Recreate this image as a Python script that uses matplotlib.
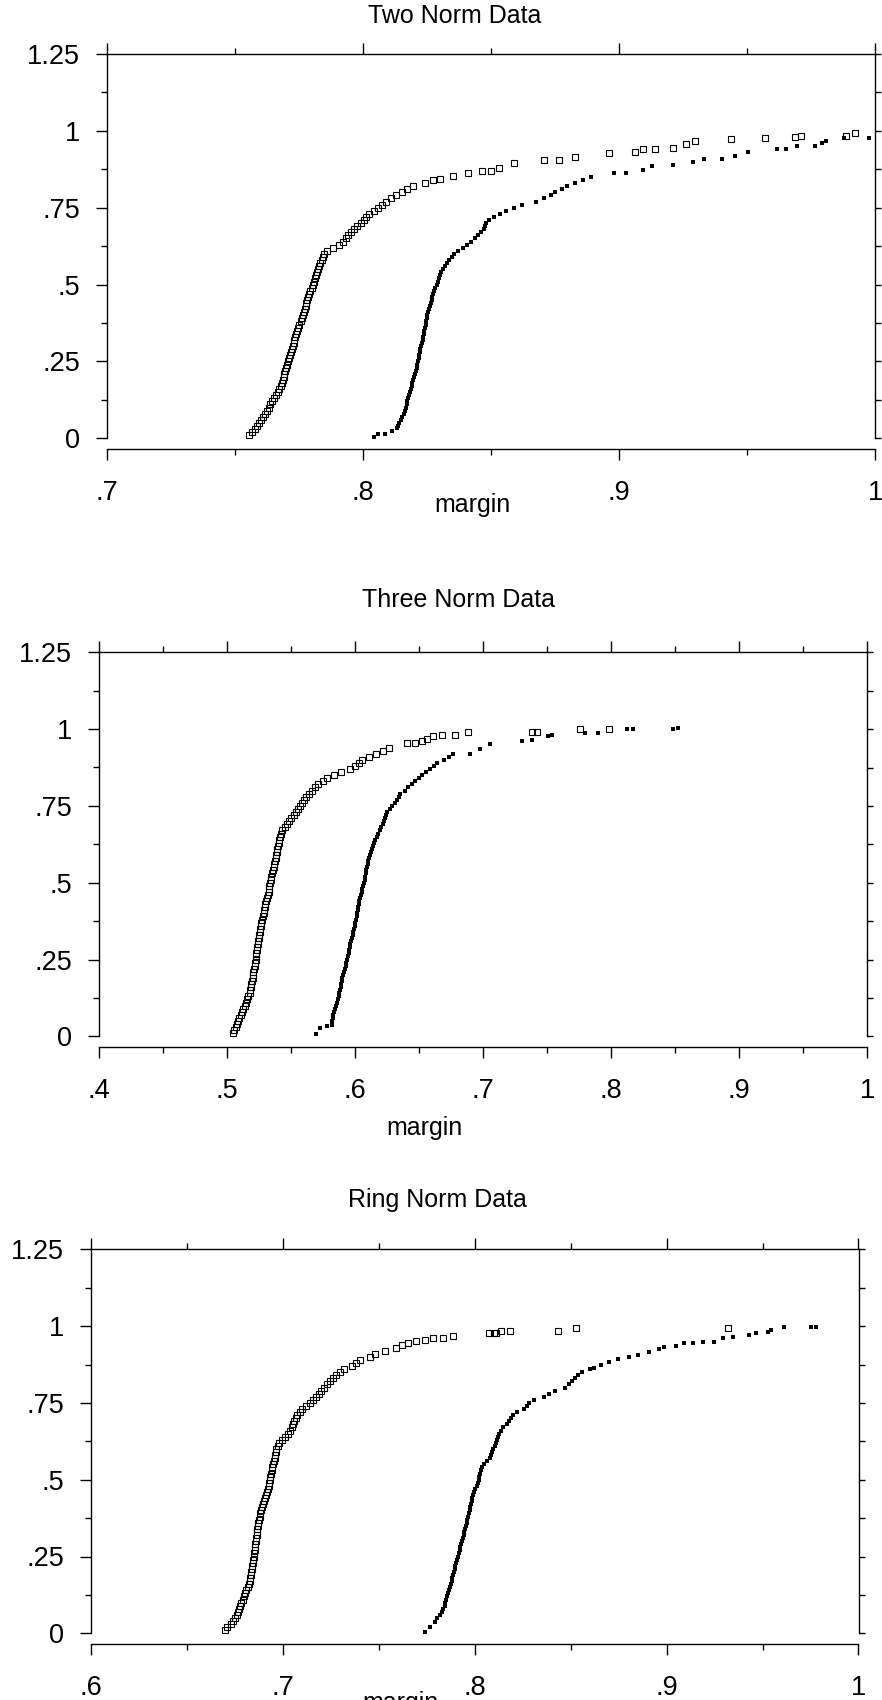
import matplotlib
matplotlib.use("Agg")
import matplotlib.pyplot as plt
from matplotlib.ticker import MultipleLocator, FuncFormatter

plt.rcParams['font.family'] = ['Liberation Sans', 'DejaVu Sans']

steps = [0.01, 0.02, 0.03, 0.04, 0.05, 0.06, 0.07, 0.08, 0.09, 0.10,
         0.11, 0.12, 0.13, 0.14, 0.15, 0.16, 0.17, 0.18, 0.19, 0.20,
         0.21, 0.22, 0.23, 0.24, 0.25, 0.26, 0.27, 0.28, 0.29, 0.30,
         0.31, 0.32, 0.33, 0.34, 0.35, 0.36, 0.37, 0.38, 0.39, 0.40,
         0.41, 0.42, 0.43, 0.44, 0.45, 0.46, 0.47, 0.48, 0.49, 0.50,
         0.51, 0.52, 0.53, 0.54, 0.55, 0.56, 0.57, 0.58, 0.59, 0.60,
         0.61, 0.62, 0.63, 0.64, 0.65, 0.66, 0.67, 0.68, 0.69, 0.70,
         0.71, 0.72, 0.73, 0.74, 0.75, 0.76, 0.77, 0.78, 0.79, 0.80,
         0.81, 0.82, 0.83, 0.84, 0.85, 0.86, 0.87, 0.88, 0.89, 0.90,
         0.91, 0.92, 0.93, 0.94]

# ---- Two Norm ----
two_sq_x = [0.7555, 0.7565, 0.7575, 0.7583, 0.7592, 0.7600, 0.7608, 0.7616, 0.7623, 0.7630,
            0.7637, 0.7644, 0.7652, 0.7660, 0.7666, 0.7672, 0.7677, 0.7681, 0.7685, 0.7689,
            0.7692, 0.7695, 0.7698, 0.7702, 0.7706, 0.7710, 0.7714, 0.7718, 0.7721, 0.7724,
            0.7728, 0.7731, 0.7735, 0.7739, 0.7742, 0.7746, 0.7750, 0.7755, 0.7760, 0.7765,
            0.7769, 0.7772, 0.7775, 0.7778, 0.7781, 0.7784, 0.7788, 0.7793, 0.7798, 0.7803,
            0.7808, 0.7812, 0.7816, 0.7820, 0.7824, 0.7828, 0.7832, 0.7837, 0.7842, 0.7848,
            0.7858, 0.7880, 0.7905, 0.7920, 0.7932, 0.7942, 0.7952, 0.7962, 0.7975, 0.7990,
            0.8002, 0.8012, 0.8022, 0.8040, 0.8056, 0.8072, 0.8090, 0.8108, 0.8128, 0.8150,
            0.8170, 0.8195, 0.8240,
            0.8273, 0.8300, 0.8352, 0.8410, 0.8462, 0.8500, 0.8529, 0.8587, 0.8707, 0.8764,
            0.8827, 0.8960, 0.9062, 0.9091, 0.9138, 0.9211, 0.9261, 0.9297, 0.9438, 0.9568,
            0.9687, 0.9708, 0.9885, 0.9920]
two_sq_y = steps[:83] + [0.84, 0.845, 0.854, 0.862, 0.87, 0.87, 0.88, 0.894, 0.905, 0.905,
                         0.914, 0.927, 0.932, 0.94, 0.94, 0.945, 0.957, 0.967, 0.972, 0.976,
                         0.981, 0.983, 0.983, 0.992]

two_dot_x = [0.8042, 0.8059, 0.8085, 0.8111, 0.8131,
             0.8137, 0.8141, 0.8146, 0.8152, 0.8158, 0.8162, 0.8166, 0.8169, 0.8172, 0.8175,
             0.8179, 0.8182, 0.8185, 0.8189, 0.8192, 0.8195, 0.8198, 0.8202, 0.8205, 0.8208,
             0.8211, 0.8213, 0.8216, 0.8218, 0.8220, 0.8223, 0.8226, 0.8229, 0.8232, 0.8234,
             0.8236, 0.8239, 0.8241, 0.8243, 0.8245, 0.8247, 0.8250, 0.8254, 0.8258, 0.8262,
             0.8265, 0.8267, 0.8270, 0.8273, 0.8277, 0.8281, 0.8286, 0.8290, 0.8294, 0.8298,
             0.8303, 0.8310, 0.8318, 0.8328, 0.8336, 0.8345, 0.8356, 0.8370, 0.8390, 0.8405,
             0.8420, 0.8436, 0.8448, 0.8460, 0.8470, 0.8476, 0.8481, 0.8492, 0.8511, 0.8533,
             0.8558, 0.8587, 0.8620, 0.8674, 0.8707, 0.8734, 0.8749, 0.8775, 0.8796, 0.8827,
             0.8860, 0.8891,
             0.8980, 0.9026, 0.9091, 0.9126, 0.9211, 0.9289, 0.9332, 0.9403, 0.9453, 0.9504,
             0.9615, 0.9651, 0.9694, 0.9764, 0.9792, 0.9808, 0.9878, 0.9977]
two_dot_y = [0.003, 0.013, 0.013, 0.024, 0.033] + steps[3:85] + [
             0.862, 0.862, 0.873, 0.886, 0.889, 0.898, 0.907, 0.908, 0.918, 0.932,
             0.94, 0.94, 0.951, 0.951, 0.961, 0.966, 0.977, 0.976]

# ---- Three Norm ----
three_sq_x = [0.5045, 0.5055, 0.5065, 0.5074, 0.5082, 0.5094, 0.5105, 0.5115, 0.5125, 0.5138,
              0.5149, 0.5157, 0.5165, 0.5175, 0.5180, 0.5185, 0.5189, 0.5193, 0.5197, 0.5200,
              0.5204, 0.5209, 0.5214, 0.5218, 0.5221, 0.5225, 0.5228, 0.5230, 0.5234, 0.5238,
              0.5242, 0.5246, 0.5251, 0.5255, 0.5259, 0.5263, 0.5267, 0.5271, 0.5276, 0.5283,
              0.5287, 0.5292, 0.5298, 0.5305, 0.5312, 0.5319, 0.5323, 0.5326, 0.5329, 0.5334,
              0.5339, 0.5343, 0.5348, 0.5355, 0.5362, 0.5368, 0.5373, 0.5377, 0.5381, 0.5385,
              0.5389, 0.5393, 0.5400, 0.5407, 0.5413, 0.5420, 0.5430, 0.5448, 0.5465, 0.5482,
              0.5500, 0.5518, 0.5535, 0.5553, 0.5570, 0.5583, 0.5601, 0.5618, 0.5640, 0.5662,
              0.5685, 0.5710, 0.5745, 0.5780, 0.5830, 0.5890, 0.5955, 0.6000, 0.6030, 0.6055,
              0.6110, 0.6165, 0.6215, 0.6260,
              0.6401, 0.6466, 0.6518, 0.6557, 0.6609, 0.6674, 0.6779, 0.6883, 0.7378, 0.7417,
              0.7755, 0.7984]
three_sq_y = steps[:94] + [0.956, 0.956, 0.962, 0.968, 0.977, 0.98, 0.98, 0.99, 0.99, 0.99,
                           1.0, 1.0]

three_dot_x = [0.5693, 0.5724, 0.5776, 0.5815,
               0.5820, 0.5824, 0.5828, 0.5835, 0.5843, 0.5852, 0.5858, 0.5864, 0.5870, 0.5876,
               0.5880, 0.5885, 0.5890, 0.5895, 0.5900, 0.5906, 0.5912, 0.5918, 0.5925, 0.5930,
               0.5934, 0.5941, 0.5947, 0.5952, 0.5957, 0.5962, 0.5968, 0.5973, 0.5979, 0.5984,
               0.5989, 0.5995, 0.6000, 0.6005, 0.6010, 0.6014, 0.6018, 0.6022, 0.6027, 0.6032,
               0.6037, 0.6043, 0.6050, 0.6056, 0.6062, 0.6068, 0.6073, 0.6077, 0.6081, 0.6085,
               0.6090, 0.6096, 0.6102, 0.6108, 0.6113, 0.6120, 0.6128, 0.6136, 0.6145, 0.6155,
               0.6167, 0.6178, 0.6190, 0.6203, 0.6214, 0.6222, 0.6229, 0.6236, 0.6250, 0.6268,
               0.6290, 0.6312, 0.6326, 0.6340, 0.6350, 0.6385, 0.6415, 0.6445, 0.6470, 0.6500,
               0.6525, 0.6555,
               0.6583, 0.6612, 0.6640, 0.6690, 0.6730, 0.6766, 0.6896, 0.6974, 0.7052, 0.7300,
               0.7378, 0.7508, 0.7534, 0.7794, 0.7898, 0.8120, 0.8172, 0.8484, 0.8523]
three_dot_y = [0.007, 0.027, 0.035, 0.038] + steps[4:86] + [
               0.87, 0.88, 0.89, 0.90, 0.91, 0.918, 0.92, 0.935, 0.95, 0.962,
               0.965, 0.977, 0.98, 0.988, 0.988, 1.0, 1.0, 1.0, 1.005]

# ---- Ring Norm ----
ring_sq_x = [0.6695, 0.6710, 0.6728, 0.6741, 0.6750, 0.6758, 0.6764, 0.6771, 0.6777, 0.6783,
             0.6789, 0.6795, 0.6802, 0.6809, 0.6815, 0.6821, 0.6827, 0.6830, 0.6833, 0.6835,
             0.6838, 0.6840, 0.6842, 0.6845, 0.6847, 0.6849, 0.6851, 0.6853, 0.6855, 0.6857,
             0.6860, 0.6862, 0.6864, 0.6866, 0.6868, 0.6871, 0.6874, 0.6878, 0.6882, 0.6886,
             0.6891, 0.6896, 0.6901, 0.6905, 0.6910, 0.6915, 0.6920, 0.6924, 0.6928, 0.6931,
             0.6934, 0.6937, 0.6940, 0.6944, 0.6948, 0.6952, 0.6956, 0.6959, 0.6962, 0.6965,
             0.6972, 0.6980, 0.6993, 0.7009, 0.7025, 0.7038, 0.7046, 0.7053, 0.7059, 0.7066,
             0.7074, 0.7086, 0.7100, 0.7122, 0.7142, 0.7156, 0.7172, 0.7186, 0.7198, 0.7212,
             0.7228, 0.7245, 0.7262, 0.7278, 0.7295, 0.7320, 0.7360, 0.7378, 0.7400, 0.7451,
             0.7477, 0.7530, 0.7590, 0.7620,
             0.7651, 0.7694, 0.7738, 0.7781, 0.7833, 0.7885, 0.8076, 0.8100, 0.8111, 0.8137,
             0.8181, 0.8432, 0.8528, 0.9321]
ring_sq_y = steps[:94] + [0.945, 0.952, 0.955, 0.96, 0.96, 0.967, 0.976, 0.976, 0.976, 0.985,
                          0.985, 0.985, 0.995, 0.995]

ring_dot_x = [0.7738, 0.7764, 0.7790,
              0.7805, 0.7818, 0.7826, 0.7836, 0.7842, 0.7846, 0.7850, 0.7855, 0.7860, 0.7864,
              0.7869, 0.7874, 0.7878, 0.7883, 0.7887, 0.7891, 0.7894, 0.7898, 0.7903, 0.7908,
              0.7911, 0.7915, 0.7920, 0.7924, 0.7929, 0.7933, 0.7937, 0.7941, 0.7945, 0.7948,
              0.7952, 0.7957, 0.7961, 0.7966, 0.7969, 0.7972, 0.7975, 0.7979, 0.7983, 0.7987,
              0.7990, 0.7996, 0.8003, 0.8009, 0.8014, 0.8019, 0.8022, 0.8025, 0.8030, 0.8037,
              0.8050, 0.8065, 0.8080, 0.8086, 0.8090, 0.8096, 0.8104, 0.8110, 0.8115, 0.8121,
              0.8128, 0.8138, 0.8148, 0.8168, 0.8180, 0.8190, 0.8198, 0.8220, 0.8255, 0.8270,
              0.8283, 0.8310, 0.8360, 0.8385, 0.8420, 0.8470, 0.8490, 0.8505, 0.8520, 0.8540,
              0.8560, 0.8600,
              0.8623, 0.8658, 0.8701, 0.8745, 0.8806, 0.8849, 0.8910, 0.8962, 0.8988, 0.9049,
              0.9092, 0.9135, 0.9188, 0.9248, 0.9292, 0.9344, 0.9431, 0.9465, 0.9526, 0.9543,
              0.9613, 0.9752, 0.9778]
ring_dot_y = [0.005, 0.022, 0.038] + steps[4:86] + [
              0.865, 0.873, 0.884, 0.892, 0.90, 0.906, 0.917, 0.925, 0.933, 0.935,
              0.944, 0.944, 0.949, 0.949, 0.96, 0.965, 0.971, 0.976, 0.982, 0.987,
              0.998, 0.998, 0.998]

titles = ['Two Norm Data', 'Three Norm Data', 'Ring Norm Data']
x_ranges = [(0.7, 1.0), (0.4, 1.0), (0.6, 1.0)]
series = [(two_sq_x, two_sq_y, two_dot_x, two_dot_y),
          (three_sq_x, three_sq_y, three_dot_x, three_dot_y),
          (ring_sq_x, ring_sq_y, ring_dot_x, ring_dot_y)]

# layout, in pixels of the 882x1700 canvas
W, H = 882, 1700
PT = 72 / 100  # points per pixel
boxes = [(107.3, 875.3, 54.0, 438.3),     # left, right, top (y=1.25), bottom (y=0)
         (99.3, 867.3, 652.3, 1036.3),
         (91.3, 858.5, 1249.3, 1633.3)]
title_pos = [(455, 23), (459, 607), (437, 1207)]
xlabel_pos = [(472, 512), (424, 1135), (400, 1710)]


def short_num(v, pos):
    s = f"{v:.2f}".rstrip('0').rstrip('.')
    if s.startswith('0.'):
        s = s[1:]
    return s


fig = plt.figure(figsize=(W / 100, H / 100), dpi=100)

for i in range(3):
    l, r, t, b = boxes[i]
    ax = fig.add_axes([l / W, 1 - b / H, (r - l) / W, (b - t) / H])
    ax.set_xlim(*x_ranges[i])
    ax.set_ylim(0, 1.25)

    sx, sy, dx, dy = series[i]
    ax.plot(sx, sy, ls='none', marker='s', ms=4.8, mfc='none', mec='black', mew=0.8,
            clip_on=False)
    ax.plot(dx, dy, ls='none', marker='s', ms=2.6, mfc='black', mec='black', mew=0,
            clip_on=False)

    for s in ax.spines.values():
        s.set_linewidth(1.0)
    ax.spines['bottom'].set_position(('outward', 11 * PT))
    ax.spines['right'].set_visible(False)

    ax.xaxis.set_major_locator(MultipleLocator(0.1))
    ax.xaxis.set_minor_locator(MultipleLocator(0.05))
    ax.yaxis.set_major_locator(MultipleLocator(0.25))
    ax.yaxis.set_minor_locator(MultipleLocator(0.125))
    ax.xaxis.set_major_formatter(FuncFormatter(short_num))
    ax.yaxis.set_major_formatter(FuncFormatter(short_num))

    ax.tick_params(axis='x', which='both', top=True, bottom=True, labeltop=False, direction='out')
    ax.tick_params(axis='y', which='both', left=True, right=False, direction='out')
    ax.tick_params(which='major', length=11 * PT, width=1.0)
    ax.tick_params(which='minor', length=6 * PT, width=1.0)
    ax.tick_params(axis='x', labelsize=19.5, pad=14.5)
    ax.tick_params(axis='y', labelsize=19.5, pad=16 * PT)

    # right-hand axis: short ticks every .125, no labels
    axr = ax.twinx()
    axr.set_ylim(0, 1.25)
    axr.yaxis.set_major_locator(MultipleLocator(0.125))
    axr.tick_params(axis='y', length=6 * PT, width=1.0, labelright=False, direction='out')
    for k in ('left', 'top', 'bottom'):
        axr.spines[k].set_visible(False)
    axr.spines['right'].set_linewidth(1.0)

    tx, ty = title_pos[i]
    fig.text(tx / W, 1 - ty / H, titles[i], ha='center', va='baseline', fontsize=18)
    mx, my = xlabel_pos[i]
    fig.text(mx / W, 1 - my / H, 'margin', ha='center', va='baseline', fontsize=18)

fig.savefig('out.png', dpi=100, facecolor='white')
